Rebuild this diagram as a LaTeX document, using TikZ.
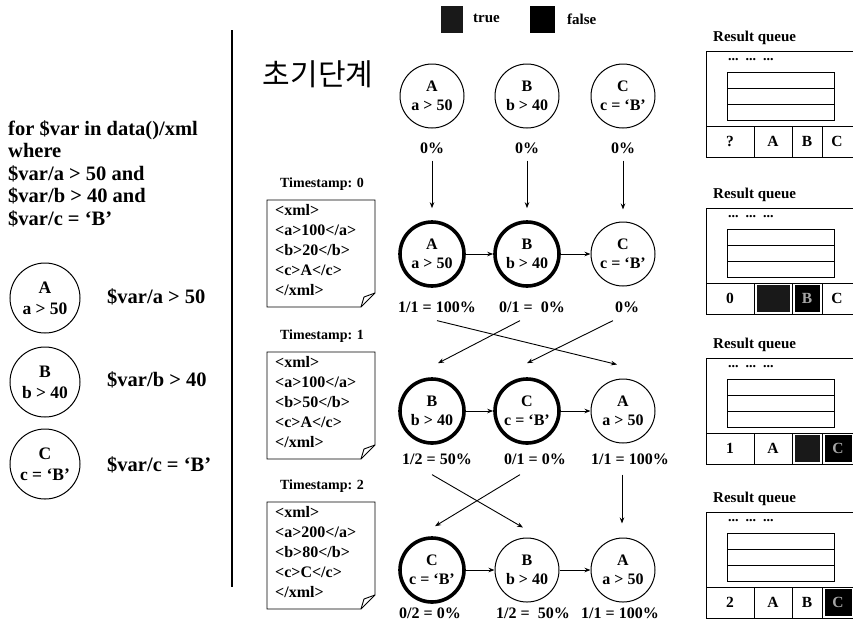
\documentclass[tikz,border=0pt]{standalone}
\usepackage{fontspec}
\setmainfont{Liberation Serif}
\newfontfamily\kofont{Noto Sans CJK KR}
\usetikzlibrary{arrows.meta}
\newcommand{\fsz}[2]{\fontsize{#1}{#2}\selectfont}

\begin{document}
\begin{tikzpicture}[x=1pt, y=-1pt,
    cond/.style={circle, draw, line width=1pt, minimum size=64pt, inner sep=0pt, align=center, font=\bfseries\fsz{16}{19.5}},
    hit/.style={cond, line width=3.6pt},
    keycond/.style={cond, minimum size=70pt, font=\bfseries\fsz{17.5}{21}},
    pct/.style={inner sep=0pt, font=\bfseries\fsz{16}{18}},
    flow/.style={-{Stealth[length=6pt,width=4.5pt]}, line width=0.9pt},
    doc/.style={line width=0.9pt},
    xmltxt/.style={align=left, anchor=north west, inner sep=0pt, font=\bfseries\fsz{16}{20}},
    stamp/.style={inner sep=0pt, font=\bfseries\fsz{14}{16}},
    qline/.style={line width=0.9pt},
    cell/.style={inner sep=0pt, font=\bfseries\fsz{15.5}{18}},
    truecell/.style={cell, fill=black!90, minimum height=27pt},
    falsecell/.style={cell, fill=black, text=black!35, minimum height=27pt}]
  \useasboundingbox (0,0) rectangle (853,622);

  % query on the left
  \node[align=left, anchor=north west, inner sep=0pt, font=\bfseries\fsz{20.5}{22.5}] (query) at (8,120)
    {for \$var in data()/xml\\where\\\$var/a > 50 and\\\$var/b > 40 and\\\$var/c = ‘B’};
  \node[keycond] (ka) at (45,298) {A\\a > 50};
  \node[keycond] (kb) at (45,382) {B\\b > 40};
  \node[keycond] (kc) at (45,464) {C\\c = ‘B’};
  \node[anchor=west, inner sep=0pt, font=\bfseries\fsz{20.5}{22}] (ta) at (107,297) {\$var/a > 50};
  \node[anchor=west, inner sep=0pt, font=\bfseries\fsz{20.5}{22}] (tb) at (107,380) {\$var/b > 40};
  \node[anchor=west, inner sep=0pt, font=\bfseries\fsz{20.5}{22}] (tc) at (107,465) {\$var/c = ‘B’};
  \draw[line width=2.5pt] (232,30) -- (232,587);

  % legend
  \node[fill=black!90, minimum width=22pt, minimum height=27pt, inner sep=0pt] (ktrue) at (452,19.5) {};
  \node[anchor=west, inner sep=0pt, font=\bfseries\fsz{15}{18}] (ltrue) at (473,18) {true};
  \node[fill=black, minimum width=25pt, minimum height=27pt, inner sep=0pt] (kfalse) at (542.5,19.5) {};
  \node[anchor=west, inner sep=0pt, font=\bfseries\fsz{15}{18}] (lfalse) at (567,19) {false};

  % initial stage
  \node[inner sep=0pt, font=\kofont\fsz{30}{32}] (stage) at (318,74) {초기단계};
  \node[cond] (a0) at (432,96) {A\\a > 50};
  \node[cond] (b0) at (527,96) {B\\b > 40};
  \node[cond] (c0) at (623,96) {C\\c = ‘B’};
  \node[pct] (pa0) at (432,148) {0\%};
  \node[pct] (pb0) at (527,148) {0\%};
  \node[pct] (pc0) at (623,148) {0\%};

  % documents
  \foreach \n/\ytop in {0/200, 1/352, 2/502} {
    \node[stamp] (ts\n) at (322,\ytop-16) {Timestamp: \n};
    \draw[doc] (267,\ytop) -- (375,\ytop) -- (375,\ytop+93) -- (361,\ytop+107) -- (267,\ytop+107) -- cycle;
    \draw[doc] (361,\ytop+107) -- (364,\ytop+97) -- (375,\ytop+93);
  }
  \node[xmltxt] (x0) at (275,204) {<xml>\\<a>100</a>\\<b>20</b>\\<c>A</c>\\</xml>};
  \node[xmltxt] (x1) at (275,356) {<xml>\\<a>100</a>\\<b>50</b>\\<c>A</c>\\</xml>};
  \node[xmltxt] (x2) at (275,506) {<xml>\\<a>200</a>\\<b>80</b>\\<c>C</c>\\</xml>};

  % timestamp 0
  \node[hit] (a1) at (432,254) {A\\a > 50};
  \node[hit] (b1) at (527,254) {B\\b > 40};
  \node[cond] (c1) at (623,254) {C\\c = ‘B’};
  \node[pct] (pa1) at (437,307) {1/1 = 100\%};
  \node[pct] (pb1) at (532,307) {0/1 =~ 0\%};
  \node[pct] (pc1) at (627,307) {0\%};

  % timestamp 1
  \node[hit] (b2) at (432,411) {B\\b > 40};
  \node[hit] (c2) at (527,411) {C\\c = ‘B’};
  \node[cond] (a2) at (623,411) {A\\a > 50};
  \node[pct] (pb2) at (437,459) {1/2 = 50\%};
  \node[pct] (pc2) at (535,459) {0/1 = 0\%};
  \node[pct] (pa2) at (630,459) {1/1 = 100\%};

  % timestamp 2
  \node[hit] (c3) at (432,570) {C\\c = ‘B’};
  \node[cond] (b3) at (527,570) {B\\b > 40};
  \node[cond] (a3) at (623,570) {A\\a > 50};
  \node[pct] (pc3) at (430,613) {0/2 = 0\%};
  \node[pct] (pb3) at (533,613) {1/2 =~ 50\%};
  \node[pct] (pa3) at (620,613) {1/1 = 100\%};

  % order changes
  \draw[flow] ([yshift=-7pt]pa0.south) -- ([yshift=12pt]a1.north);
  \draw[flow] ([yshift=-7pt]pb0.south) -- ([yshift=12pt]b1.north);
  \draw[flow] ([yshift=-7pt]pc0.south) -- ([yshift=12pt]c1.north);
  \draw[flow] (a1) -- (b1);
  \draw[flow] (b1) -- (c1);
  \draw[flow] ([yshift=-8pt]pa1.south) -- ([xshift=-6pt,yshift=14pt]a2.north);
  \draw[flow] ([xshift=-12pt,yshift=-8pt]pb1.south) -- ([xshift=6pt,yshift=14pt]b2.north);
  \draw[flow] ([xshift=-14pt,yshift=-8pt]pc1.south) -- ([yshift=14pt]c2.north);
  \draw[flow] (b2) -- (c2);
  \draw[flow] (c2) -- (a2);
  \draw[flow] ([xshift=-5pt,yshift=-10pt]pb2.south) -- ([xshift=-4pt,yshift=10pt]b3.north);
  \draw[flow] ([xshift=-15pt,yshift=-10pt]pc2.south) -- ([xshift=3pt,yshift=10pt]c3.north);
  \draw[flow] ([xshift=-8pt,yshift=-10pt]pa2.south) -- ([xshift=-1pt,yshift=14pt]a3.north);
  \draw[flow] (c3) -- (b3);
  \draw[flow] (b3) -- (a3);

  % result queues
  \foreach \q/\T in {1/51, 2/208, 3/358, 4/512} {
    \node[stamp, anchor=west, font=\bfseries\fsz{15}{16}] (rq\q) at (713,\T-13) {Result queue};
    \draw[qline] (862,\T) -- (706,\T) -- (706,\T+106) -- (862,\T+106);
    \draw[qline] (706,\T+75) -- (862,\T+75);
    \foreach \x in {754,792,822} \draw[qline] (\x,\T+75) -- (\x,\T+106);
    \draw[qline] (727,\T+21) rectangle (834,\T+69);
    \draw[qline] (727,\T+37) -- (834,\T+37) (727,\T+53) -- (834,\T+53);
    \node[anchor=west, inner sep=0pt, font=\bfseries\fsz{14}{16}] (dots\q) at (728,\T+9) {...\ \ ...\ \ ...};
  }
  \node[cell] (q1a) at (730,141.5) {?};
  \node[cell] (q1b) at (773,141.5) {A};
  \node[cell] (q1c) at (807,141.5) {B};
  \node[cell] (q1d) at (837,141.5) {C};
  \node[cell] (q2a) at (730,298.5) {0};
  \node[truecell, minimum width=33pt] (q2b) at (773,298.5) {};
  \node[falsecell, minimum width=25pt] (q2c) at (807,298.5) {B};
  \node[cell] (q2d) at (837,298.5) {C};
  \node[cell] (q3a) at (730,448.5) {1};
  \node[cell] (q3b) at (773,448.5) {A};
  \node[truecell, minimum width=25pt] (q3c) at (807,448.5) {};
  \node[falsecell, minimum width=27pt] (q3d) at (838,448.5) {C};
  \node[cell] (q4a) at (730,602.5) {2};
  \node[cell] (q4b) at (773,602.5) {A};
  \node[cell] (q4c) at (807,602.5) {B};
  \node[falsecell, minimum width=27pt] (q4d) at (838,602.5) {C};
\end{tikzpicture}
\end{document}
